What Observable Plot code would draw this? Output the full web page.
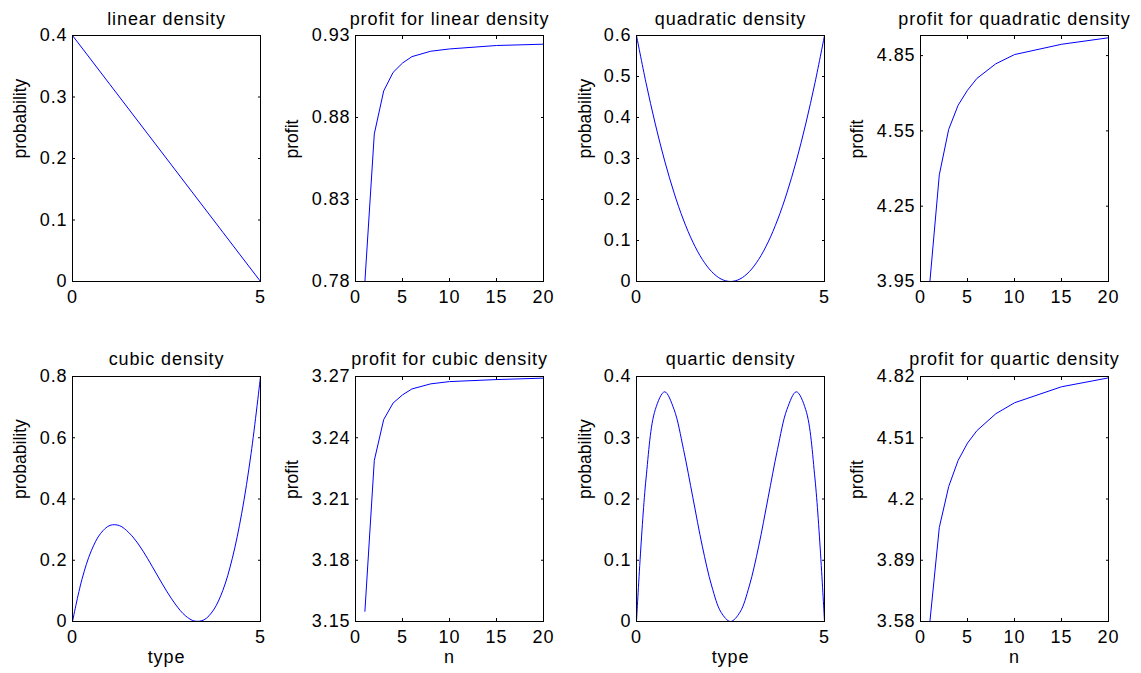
<!DOCTYPE html>
<html><head><meta charset="utf-8">
<script src="https://cdn.jsdelivr.net/npm/d3@7"></script>
<script src="https://cdn.jsdelivr.net/npm/@observablehq/plot@0.6"></script>
<style>
body{margin:0;background:#fff;}
#chart{position:relative;width:1141px;height:673px;overflow:hidden;background:#fff;}
#chart svg{position:absolute;overflow:visible;}
</style></head><body><div id="chart"></div>
<script>
// ---- data ----
const linearType = [0, 1, 2, 3, 4, 5];
const linearProb = [0.4, 0.32, 0.24, 0.16, 0.08, 0];

const densityType = [0, 0.25, 0.5, 0.75, 1, 1.25, 1.5, 1.75, 2, 2.25, 2.5, 2.75, 3, 3.25, 3.5, 3.75, 4, 4.25, 4.5, 4.75, 5];
const quadraticProb = [0.6, 0.486, 0.384, 0.294, 0.216, 0.15, 0.096, 0.054, 0.024, 0.006, 0, 0.006, 0.024, 0.054, 0.096, 0.15, 0.216, 0.294, 0.384, 0.486, 0.6];
const cubicProb = [0, 0.137, 0.231, 0.288, 0.314, 0.313, 0.29, 0.253, 0.205, 0.152, 0.1, 0.054, 0.019, 0.0013, 0.0056, 0.0375, 0.102, 0.206, 0.353, 0.549, 0.8];
const quarticProb = [0, 0.231, 0.346, 0.375, 0.346, 0.281, 0.202, 0.123, 0.058, 0.015, 0, 0.015, 0.058, 0.123, 0.202, 0.281, 0.346, 0.375, 0.346, 0.231, 0];

const nValues = [1, 2, 3, 4, 5, 6, 8, 10, 15, 20];
const linearProfit = [0.78, 0.870, 0.8962, 0.9075, 0.9132, 0.9171, 0.9204, 0.9218, 0.9239, 0.9247];
const quadraticProfit = [3.95, 4.375, 4.556, 4.652, 4.712, 4.759, 4.817, 4.854, 4.895, 4.921];
const cubicProfit = [3.155, 3.2289, 3.2489, 3.257, 3.261, 3.2639, 3.2664, 3.2675, 3.2685, 3.2692];
const quarticProfit = [3.58, 4.056, 4.263, 4.395, 4.483, 4.546, 4.631, 4.687, 4.768, 4.813];

const typeTicks = [0, 5];
const nTicks = [0, 5, 10, 15, 20];
const linearProbTicks = [0, 0.1, 0.2, 0.3, 0.4];
const linearProfitTicks = [0.78, 0.83, 0.88, 0.93];
const quadraticProbTicks = [0, 0.1, 0.2, 0.3, 0.4, 0.5, 0.6];
const quadraticProfitTicks = [3.95, 4.25, 4.55, 4.85];
const cubicProbTicks = [0, 0.2, 0.4, 0.6, 0.8];
const cubicProfitTicks = [3.15, 3.18, 3.21, 3.24, 3.27];
const quarticProbTicks = [0, 0.1, 0.2, 0.3, 0.4];
const quarticProfitTicks = [3.58, 3.89, 4.2, 4.51, 4.82];

const titles = ["linear density", "profit for linear density", "quadratic density", "profit for quadratic density",
                "cubic density", "profit for cubic density", "quartic density", "profit for quartic density"];

const panels = [
  {title: titles[0], x: linearType, y: linearProb, xDomain: [0, 5], xTicks: typeTicks, yDomain: [0, 0.4], yTicks: linearProbTicks, yLabel: "probability", xLabel: null, curve: "linear"},
  {title: titles[1], x: nValues, y: linearProfit, xDomain: [0, 20], xTicks: nTicks, yDomain: [0.78, 0.93], yTicks: linearProfitTicks, yLabel: "profit", xLabel: null, curve: "linear"},
  {title: titles[2], x: densityType, y: quadraticProb, xDomain: [0, 5], xTicks: typeTicks, yDomain: [0, 0.6], yTicks: quadraticProbTicks, yLabel: "probability", xLabel: null, curve: "catmull-rom"},
  {title: titles[3], x: nValues, y: quadraticProfit, xDomain: [0, 20], xTicks: nTicks, yDomain: [3.95, 4.93], yTicks: quadraticProfitTicks, yLabel: "profit", xLabel: null, curve: "linear"},
  {title: titles[4], x: densityType, y: cubicProb, xDomain: [0, 5], xTicks: typeTicks, yDomain: [0, 0.8], yTicks: cubicProbTicks, yLabel: "probability", xLabel: "type", curve: "catmull-rom"},
  {title: titles[5], x: nValues, y: cubicProfit, xDomain: [0, 20], xTicks: nTicks, yDomain: [3.15, 3.27], yTicks: cubicProfitTicks, yLabel: "profit", xLabel: "n", curve: "linear"},
  {title: titles[6], x: densityType, y: quarticProb, xDomain: [0, 5], xTicks: typeTicks, yDomain: [0, 0.4], yTicks: quarticProbTicks, yLabel: "probability", xLabel: "type", curve: "catmull-rom"},
  {title: titles[7], x: nValues, y: quarticProfit, xDomain: [0, 20], xTicks: nTicks, yDomain: [3.58, 4.82], yTicks: quarticProfitTicks, yLabel: "profit", xLabel: "n", curve: "linear"}
];

// ---- layout ----
const colLeft = [72, 355, 636, 920];
const rowTop = [35, 376];
const boxW = 188;
const boxH = [246, 245];
const titleDy = [-16, -17];
const yLabelDx = [-52, -63, -51, -63];
const ML = 70, MT = 40, MR = 20, MB = 60;
const FONT = "'Liberation Sans', Arial, Helvetica, sans-serif";

const chart = document.getElementById("chart");

panels.forEach((p, i) => {
  const col = i % 4, row = Math.floor(i / 4);
  const rows = p.x.map((x, j) => ({x, y: p.y[j]}));
  const marks = [
    Plot.line(rows, {x: "x", y: "y", stroke: "#0000ff", strokeWidth: 1, curve: p.curve, clip: true}),
    Plot.frame({stroke: "black", strokeWidth: 1}),
    Plot.axisY(p.yTicks, {anchor: "left", tickSize: -3, tickPadding: 8, tickFormat: d => String(d), label: null}),
    Plot.axisY(p.yTicks, {anchor: "right", tickSize: -3, tickFormat: () => "", label: null}),
    Plot.axisX(p.xTicks, {anchor: "bottom", tickSize: -3, tickPadding: 12, tickFormat: d => String(d), label: null}),
    Plot.axisX(p.xTicks, {anchor: "top", tickSize: -3, tickFormat: () => "", label: null}),
    Plot.text([p.title], {frameAnchor: "top", lineAnchor: "middle", dy: titleDy[row], text: d => d, fontSize: 18}),
    Plot.text([p.yLabel], {frameAnchor: "left", lineAnchor: "middle", dx: yLabelDx[col], rotate: -90, text: d => d, fontSize: 17.5})
  ];
  if (p.xLabel) marks.push(Plot.text([p.xLabel], {frameAnchor: "bottom", lineAnchor: "middle", dy: 36, text: d => d, fontSize: 18}));
  const svg = Plot.plot({
    width: ML + boxW + MR,
    height: MT + boxH[row] + MB,
    marginLeft: ML, marginTop: MT, marginRight: MR, marginBottom: MB,
    x: {domain: p.xDomain},
    y: {domain: p.yDomain},
    style: {fontFamily: FONT, fontSize: "18px", letterSpacing: "0.9px", color: "black", background: "transparent", overflow: "visible"},
    marks
  });
  svg.style.left = (colLeft[col] - ML) + "px";
  svg.style.top = (rowTop[row] - MT) + "px";
  svg.querySelectorAll("text").forEach(t => {
    if (t.textContent === p.yLabel) t.style.letterSpacing = "0px";
  });
  chart.appendChild(svg);
});
</script>
</body></html>
